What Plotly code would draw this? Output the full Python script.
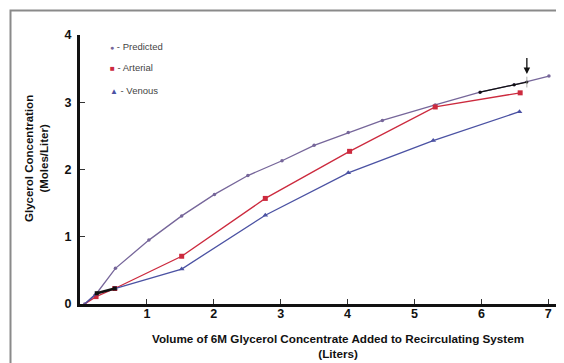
import plotly.graph_objects as go

# Data
pred_x = [0.07, 0.25, 0.53, 1.03, 1.52, 2.01, 2.51, 3.02, 3.50, 4.01, 4.52, 5.31, 5.98, 6.49, 7.01]
pred_y = [0.00, 0.16, 0.53, 0.95, 1.31, 1.63, 1.91, 2.13, 2.36, 2.55, 2.73, 2.96, 3.15, 3.26, 3.39]

art_x = [0.07, 0.24, 0.52, 1.52, 2.77, 4.03, 5.31, 6.58]
art_y = [0.00, 0.11, 0.23, 0.71, 1.57, 2.27, 2.93, 3.14]

ven_x = [0.07, 0.24, 0.52, 1.52, 2.77, 4.01, 5.28, 6.57]
ven_y = [0.00, 0.15, 0.23, 0.52, 1.32, 1.95, 2.43, 2.86]

# black highlighted segments seen in the figure
hl1_x = [0.25, 0.52]
hl1_y = [0.16, 0.23]
hl2_x = [5.98, 6.49, 6.68]
hl2_y = [3.15, 3.26, 3.30]

arrow_x = 6.68
arrow_top = 3.68
arrow_tip = 3.42
mark_y = [3.22, 3.38]

x_ticks = [1, 2, 3, 4, 5, 6, 7]
y_ticks = [0, 1, 2, 3, 4]

PRED_C = "#76669a"
ART_C = "#cc2a3e"
VEN_C = "#4b52a3"
FONT = "Liberation Sans, Arial, sans-serif"

fig = go.Figure()
fig.add_trace(go.Scatter(x=pred_x, y=pred_y, mode="lines+markers",
                         line=dict(color=PRED_C, width=1.3),
                         marker=dict(symbol="circle", size=3.5, color=PRED_C)))
fig.add_trace(go.Scatter(x=art_x, y=art_y, mode="lines",
                         line=dict(color=ART_C, width=1.3)))
fig.add_trace(go.Scatter(x=art_x[1:], y=art_y[1:], mode="markers",
                         marker=dict(symbol="square", size=5, color=ART_C)))
fig.add_trace(go.Scatter(x=ven_x, y=ven_y, mode="lines",
                         line=dict(color=VEN_C, width=1.3)))
fig.add_trace(go.Scatter(x=ven_x[1:], y=ven_y[1:], mode="markers",
                         marker=dict(symbol="triangle-up", size=5, color=VEN_C)))
fig.add_trace(go.Scatter(x=hl1_x, y=hl1_y, mode="lines+markers",
                         line=dict(color="#111111", width=2.5),
                         marker=dict(symbol="square", size=4, color="#111111")))
fig.add_trace(go.Scatter(x=hl2_x, y=hl2_y, mode="lines+markers",
                         line=dict(color="#111111", width=1.3),
                         marker=dict(symbol="circle", size=3, color="#111111")))
fig.add_trace(go.Scatter(x=[arrow_x, arrow_x], y=mark_y, mode="lines",
                         line=dict(color="#999999", width=0.8)))

fig.add_annotation(x=arrow_x, y=arrow_tip, ax=arrow_x, ay=arrow_top,
                   xref="x", yref="y", axref="x", ayref="y",
                   showarrow=True, arrowhead=2, arrowsize=1, arrowwidth=1.3,
                   arrowcolor="#111111", text="")

# legend as annotations
legend_items = [("●", PRED_C, 7, "- Predicted", 38),
                ("■", ART_C, 8, "- Arterial", 60),
                ("▲", VEN_C, 8, "- Venous", 82)]
W = 487.0
H = 269.0
for sym, col, fs, label, py in legend_items:
    fig.add_annotation(xref="paper", yref="paper",
                       x=(100 - 72) / W, y=(296 - py) / H,
                       xanchor="left", yanchor="middle", showarrow=False,
                       text=f"<span style='color:{col};font-size:{fs}px'>{sym}</span> {label}",
                       font=dict(family=FONT, size=9.5, color="#444444"))

# axis titles
fig.add_annotation(xref="paper", yref="paper", x=(330 - 72) / W, y=(296 - 338) / H,
                   xanchor="center", yanchor="middle", showarrow=False,
                   text="Volume of 6M Glycerol Concentrate Added to Recirculating System<br>(Liters)",
                   font=dict(family=FONT, size=11.7, color="#111111", weight="bold"))
fig.add_annotation(xref="paper", yref="paper", x=(28 - 72) / W, y=(296 - 151) / H,
                   xanchor="center", yanchor="middle", showarrow=False, textangle=-90,
                   text="Glycerol Concentration<br>(Moles/Liter)",
                   font=dict(family=FONT, size=11.5, color="#111111", weight="bold"))

# frame
fig.add_shape(type="rect", xref="paper", yref="paper",
              x0=(2.5 - 72) / W, x1=(559 - 72) / W,
              y0=(296 - 359.5) / H, y1=(296 - 2.5) / H,
              line=dict(color="#8a8a8a", width=2), fillcolor="rgba(0,0,0,0)")

fig.update_layout(
    width=564, height=363,
    margin=dict(l=72, r=5, t=27, b=67),
    paper_bgcolor="white", plot_bgcolor="white",
    showlegend=False,
    xaxis=dict(range=[0, 7.28], tickvals=x_ticks, ticktext=[str(v) for v in x_ticks],
               showgrid=False, zeroline=False, showline=True, linecolor="#111111",
               linewidth=3, ticks="inside", ticklen=5, tickwidth=1, tickcolor="#333333",
               ticklabelstandoff=-4,
               tickfont=dict(family=FONT, size=12.5, color="#111111", weight="bold")),
    yaxis=dict(range=[0, 4], tickvals=y_ticks, ticktext=[str(v) for v in y_ticks],
               showgrid=False, zeroline=False, showline=True, linecolor="#111111",
               linewidth=3, ticks="inside", ticklen=5, tickwidth=1, tickcolor="#333333",
               ticklabelstandoff=3,
               tickfont=dict(family=FONT, size=12.5, color="#111111", weight="bold")),
)

fig.write_html("out.html")
